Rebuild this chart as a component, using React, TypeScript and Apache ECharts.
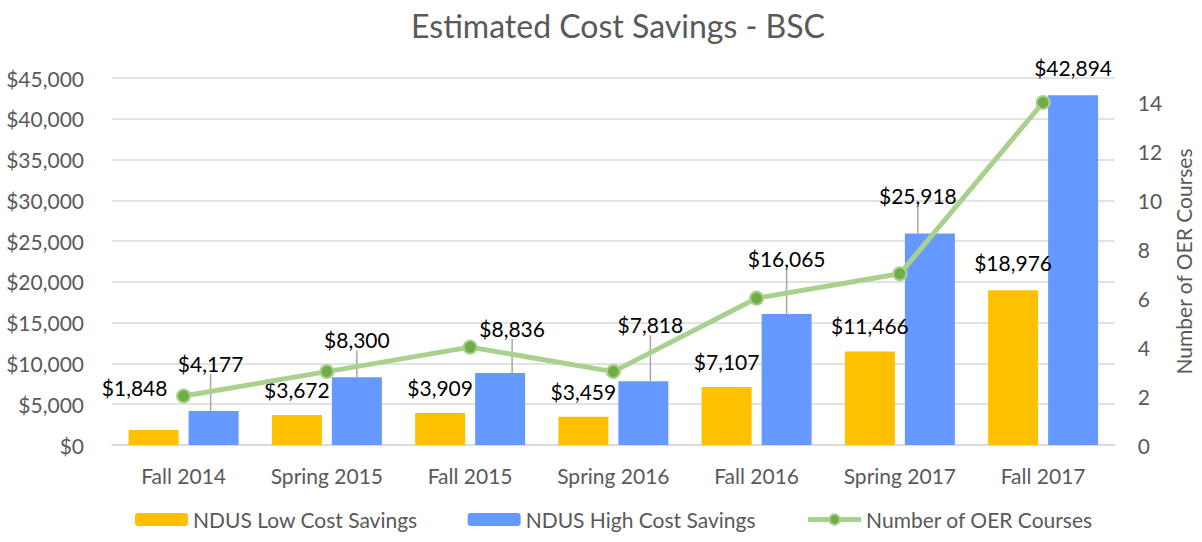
import React, { useEffect, useRef } from "react";
import * as echarts from "echarts";

const categories = ["Fall 2014", "Spring 2015", "Fall 2015", "Spring 2016", "Fall 2016", "Spring 2017", "Fall 2017"];
const lowSavings = [1848, 3672, 3909, 3459, 7107, 11466, 18976];
const highSavings = [4177, 8300, 8836, 7818, 16065, 25918, 42894];
const oerCourses = [2, 3, 4, 3, 6, 7, 14];

// label nudges (layout only)
const lowLabelShift = [[-19, -17], [0, 0], [0, 0], [0, 0], [0, 0], [0, 0], [0, -2]];
const highLabelShift = [[-3, -32], [0, -22], [12, -29], [7, -41], [0, -40], [-12, -23], [0, -12]];
const highLeader = [true, true, true, true, true, true, false];

const FONT = "Lato";
const money = (v: number) => "$" + v.toLocaleString("en-US");

export default function App() {
  const ref = useRef<HTMLDivElement>(null);
  useEffect(() => {
    if (!ref.current) return;
    const chart = echarts.init(ref.current, null, { renderer: "svg" });
    chart.setOption({
      animation: false,
      textStyle: { fontFamily: FONT },
      title: {
        text: "Estimated Cost Savings - BSC",
        left: 613,
        textAlign: "center",
        top: 4,
        textStyle: { fontFamily: FONT, fontSize: 32, fontWeight: "normal", color: "#595959" },
      },
      legend: {
        bottom: 7,
        left: 130,
        itemWidth: 53,
        itemHeight: 13,
        itemGap: 50,
        textStyle: { fontFamily: FONT, fontSize: 21, color: "#595959" },
        data: [
          "NDUS Low Cost Savings",
          "NDUS High Cost Savings",
          { name: "Number of OER Courses", lineStyle: { width: 5, color: "#A9D18E" } },
        ],
      },
      grid: { left: 112, right: 87, top: 78, bottom: 97, containLabel: false },
      xAxis: {
        type: "category",
        data: categories,
        axisLine: { lineStyle: { color: "#d9d9d9", width: 1.5 } },
        axisTick: { show: false },
        axisLabel: { color: "#595959", fontSize: 21, fontFamily: FONT, margin: 20, interval: 0 },
      },
      yAxis: [
        {
          type: "value",
          min: 0,
          max: 45000,
          interval: 5000,
          axisLine: { show: false },
          axisTick: { show: false },
          splitLine: { lineStyle: { color: "#d9d9d9", width: 1.5 } },
          axisLabel: { color: "#595959", fontSize: 21, fontFamily: FONT, margin: 28, formatter: (v: number) => money(v) },
        },
        {
          type: "value",
          min: 0,
          max: 15,
          interval: 2,
          position: "right",
          name: "Number of OER Courses",
          nameLocation: "middle",
          nameRotate: 90,
          nameGap: 58,
          nameTextStyle: { color: "#595959", fontSize: 21, fontFamily: FONT },
          axisLine: { show: false },
          axisTick: { show: false },
          splitLine: { show: false },
          axisLabel: { color: "#595959", fontSize: 21, fontFamily: FONT, margin: 23, showMaxLabel: false },
        },
      ],
      series: [
        {
          name: "NDUS Low Cost Savings",
          type: "bar",
          data: lowSavings,
          barWidth: 50,
          barGap: "20%",
          itemStyle: { color: "#FFC000" },
          label: {
            show: true,
            position: "top",
            distance: 15,
            color: "#000",
            fontSize: 21,
            fontFamily: FONT,
            formatter: (p: any) => money(p.value),
          },
          labelLayout: (p: any) => ({ dx: lowLabelShift[p.dataIndex][0], dy: lowLabelShift[p.dataIndex][1] }),
        },
        {
          name: "NDUS High Cost Savings",
          type: "bar",
          data: highSavings.map((v, i) => ({ value: v, labelLine: { show: highLeader[i] } })),
          barWidth: 50,
          barGap: "20%",
          itemStyle: { color: "#6699FF" },
          label: {
            show: true,
            position: "top",
            distance: 5,
            color: "#000",
            fontSize: 21,
            fontFamily: FONT,
            formatter: (p: any) => money(p.value),
          },
          labelLine: { show: true, lineStyle: { color: "#a6a6a6", width: 1.5 } },
          labelLayout: (p: any) => ({ dx: highLabelShift[p.dataIndex][0], dy: highLabelShift[p.dataIndex][1] }),
        },
        {
          name: "Number of OER Courses",
          type: "line",
          yAxisIndex: 1,
          data: oerCourses,
          symbol: "circle",
          symbolSize: 13,
          z: 5,
          lineStyle: { color: "#A9D18E", width: 5 },
          itemStyle: { color: "#70AD47", borderColor: "#A9D18E", borderWidth: 2 },
        },
      ],
    });
    return () => chart.dispose();
  }, []);
  return <div ref={ref} style={{ position: "absolute", left: 0, top: 0, width: 1202, height: 542 }} />;
}
